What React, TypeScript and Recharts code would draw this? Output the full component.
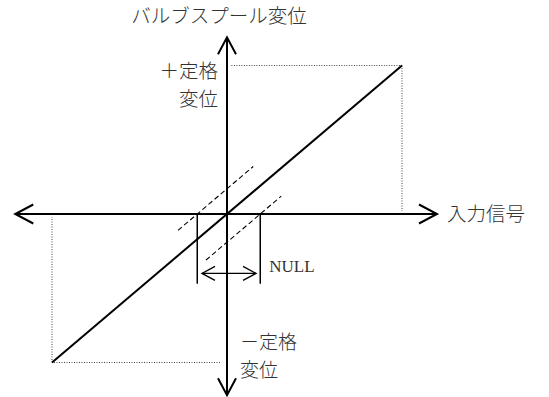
import React from "react";
import { ComposedChart, Line, XAxis, YAxis, ReferenceLine, ReferenceDot } from "recharts";

// ---- data (units: input signal normalized to rated signal, displacement normalized to rated displacement)
const axisXExtent = [-1.21, 1.2];
const axisYExtent = [-1.22, 1.19];
const characteristic = [
  { x: -1, y: -1 },
  { x: 1, y: 1 },
];
const nullBand = [-0.17, 0.19]; // dead band (NULL) edges on input axis
const deadBandLeft = [
  { x: -0.28, y: -0.11 },
  { x: 0.15, y: 0.32 },
];
const deadBandRight = [
  { x: -0.12, y: -0.31 },
  { x: 0.31, y: 0.12 },
];
const nullLineBottom = -0.47;
const nullArrow = [
  { x: -0.143, y: -0.4 },
  { x: 0.166, y: -0.4 },
];
const ratedUpper = [
  { x: 0.025, y: 1 },
  { x: 1, y: 1 },
  { x: 1, y: 0.02 },
];
const ratedLower = [
  { x: -0.04, y: -1 },
  { x: -1, y: -1 },
  { x: -1, y: -0.02 },
];
const yAxisTitle = "バルブスプール変位";
const xAxisTitle = "入力信号";
const plusRated = ["＋定格", "変位"];
const minusRated = ["－定格", "変位"];
const nullLabel = "NULL";

const W = 549;
const H = 397;
const JP = '"Noto Sans CJK JP", "Noto Sans CJK SC", sans-serif';
const SERIF = '"Liberation Serif", "DejaVu Serif", serif';
const TXT = "#333";

function arrowShape(len: number, half: number) {
  return (p: any) => {
    const { x1, y1, x2, y2, stroke, strokeWidth } = p;
    const head = (tx: number, ty: number, fx: number, fy: number) => {
      const dx = tx - fx;
      const dy = ty - fy;
      const d = Math.hypot(dx, dy) || 1;
      const ux = dx / d;
      const uy = dy / d;
      const bx = tx - ux * len;
      const by = ty - uy * len;
      const pts = `${bx - uy * half},${by + ux * half} ${tx},${ty} ${bx + uy * half},${by - ux * half}`;
      return <polyline points={pts} fill="none" stroke={stroke} strokeWidth={strokeWidth} strokeLinejoin="miter" />;
    };
    return (
      <g>
        <line x1={x1} y1={y1} x2={x2} y2={y2} stroke={stroke} strokeWidth={strokeWidth} />
        {head(x1, y1, x2, y2)}
        {head(x2, y2, x1, y1)}
      </g>
    );
  };
}

function textShape(lines: string[], opts: { dx: number; dy: number; anchor: string; font: string; size: number; lh?: number; weight?: number }) {
  return (p: any) => {
    const { cx, cy } = p;
    return (
      <text
        x={cx + opts.dx}
        y={cy + opts.dy}
        textAnchor={opts.anchor as any}
        fontFamily={opts.font}
        fontSize={opts.size}
        fontWeight={opts.weight || 400}
        fill={TXT}
      >
        {lines.map((l, i) => (
          <tspan key={i} x={cx + opts.dx} dy={i === 0 ? 0 : opts.lh || 0}>
            {l}
          </tspan>
        ))}
      </text>
    );
  };
}

export default function App() {
  const mLeft = 227 - -axisXExtent[0] * 175;
  const mRight = W - (227 + axisXExtent[1] * 175);
  const mTop = 214 - axisYExtent[1] * 148.5;
  const mBottom = H - (214 + -axisYExtent[0] * 148.5);
  const dotted = { stroke: "#444", strokeWidth: 1, strokeDasharray: "1 1.5" };
  return (
    <div style={{ position: "absolute", left: 0, top: 0, width: W, height: H, background: "#fff" }}>
      <ComposedChart
        width={W}
        height={H}
        data={characteristic}
        margin={{ left: mLeft, right: mRight, top: mTop, bottom: mBottom }}
      >
        <XAxis dataKey="x" type="number" domain={axisXExtent} hide allowDataOverflow />
        <YAxis type="number" domain={axisYExtent} hide allowDataOverflow />

        {/* rated dotted guides */}
        <ReferenceLine segment={[ratedUpper[0], ratedUpper[1]]} {...dotted} ifOverflow="visible" />
        <ReferenceLine segment={[ratedUpper[1], ratedUpper[2]]} {...dotted} ifOverflow="visible" />
        <ReferenceLine segment={[ratedLower[0], ratedLower[1]]} {...dotted} ifOverflow="visible" />
        <ReferenceLine segment={[ratedLower[1], ratedLower[2]]} {...dotted} ifOverflow="visible" />

        {/* dead band dashed lines */}
        <ReferenceLine segment={deadBandLeft} stroke="#000" strokeWidth={1.1} strokeDasharray="5 3" ifOverflow="visible" />
        <ReferenceLine segment={deadBandRight} stroke="#000" strokeWidth={1.1} strokeDasharray="5 3" ifOverflow="visible" />

        {/* NULL markers */}
        <ReferenceLine segment={[{ x: nullBand[0], y: 0 }, { x: nullBand[0], y: nullLineBottom }]} stroke="#000" strokeWidth={1.5} ifOverflow="visible" />
        <ReferenceLine segment={[{ x: nullBand[1], y: 0 }, { x: nullBand[1], y: nullLineBottom }]} stroke="#000" strokeWidth={1.5} ifOverflow="visible" />
        <ReferenceLine segment={nullArrow} stroke="#000" strokeWidth={1.3} ifOverflow="visible" shape={arrowShape(13, 7)} />

        {/* axes with arrows */}
        <ReferenceLine segment={[{ x: axisXExtent[0], y: 0 }, { x: axisXExtent[1], y: 0 }]} stroke="#000" strokeWidth={2} ifOverflow="visible" shape={arrowShape(18, 9.5)} />
        <ReferenceLine segment={[{ x: 0, y: axisYExtent[0] }, { x: 0, y: axisYExtent[1] }]} stroke="#000" strokeWidth={2} ifOverflow="visible" shape={arrowShape(17, 9)} />

        <Line dataKey="y" stroke="#000" strokeWidth={2} dot={false} isAnimationActive={false} />

        {/* labels */}
        <ReferenceDot x={0} y={axisYExtent[1]} r={1} ifOverflow="visible" shape={textShape([yAxisTitle], { dx: -8, dy: -14, anchor: "middle", font: JP, size: 19.5, weight: 300 })} />
        <ReferenceDot x={axisXExtent[1]} y={0} r={1} ifOverflow="visible" shape={textShape([xAxisTitle], { dx: 10, dy: 7, anchor: "start", font: JP, size: 19.5, weight: 300 })} />
        <ReferenceDot x={0} y={1} r={1} ifOverflow="visible" shape={textShape(plusRated, { dx: -9, dy: 12, anchor: "end", font: JP, size: 19.5, lh: 28, weight: 300 })} />
        <ReferenceDot x={0} y={-1} r={1} ifOverflow="visible" shape={textShape(minusRated, { dx: 13, dy: -14, anchor: "start", font: JP, size: 19, lh: 28, weight: 300 })} />
        <ReferenceDot x={nullBand[1]} y={nullArrow[0].y} r={1} ifOverflow="visible" shape={textShape([nullLabel], { dx: 9, dy: -1, anchor: "start", font: SERIF, size: 17 })} />
      </ComposedChart>
    </div>
  );
}
